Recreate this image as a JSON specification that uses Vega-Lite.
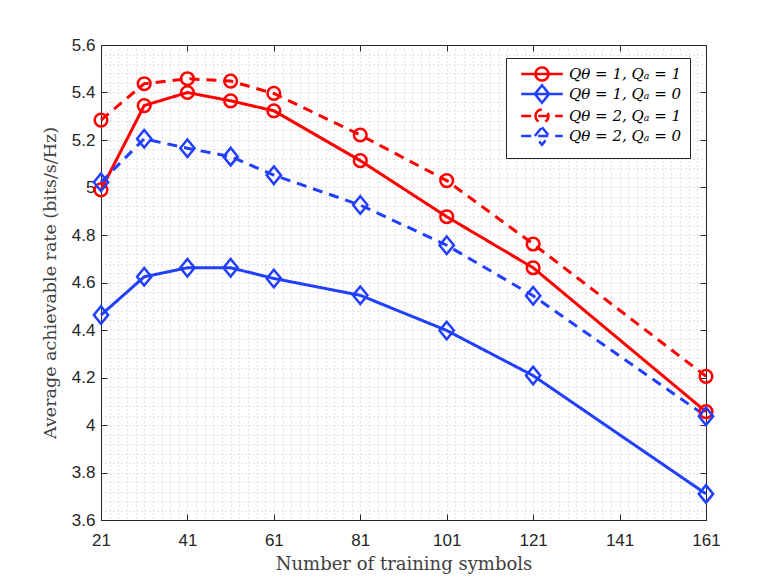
{
  "$schema": "https://vega.github.io/schema/vega-lite/v6.json",
  "autosize": "none",
  "width": 605,
  "height": 475,
  "padding": {"left": 101, "top": 45, "right": 72, "bottom": 64},
  "background": "white",
  "data": {
    "values": [
      {"symbols": 21, "rate": 4.99, "series": "Qθ = 1, Qₐ = 1"},
      {"symbols": 31, "rate": 5.345, "series": "Qθ = 1, Qₐ = 1"},
      {"symbols": 41, "rate": 5.4, "series": "Qθ = 1, Qₐ = 1"},
      {"symbols": 51, "rate": 5.365, "series": "Qθ = 1, Qₐ = 1"},
      {"symbols": 61, "rate": 5.323, "series": "Qθ = 1, Qₐ = 1"},
      {"symbols": 81, "rate": 5.113, "series": "Qθ = 1, Qₐ = 1"},
      {"symbols": 101, "rate": 4.877, "series": "Qθ = 1, Qₐ = 1"},
      {"symbols": 121, "rate": 4.662, "series": "Qθ = 1, Qₐ = 1"},
      {"symbols": 161, "rate": 4.056, "series": "Qθ = 1, Qₐ = 1"},
      {"symbols": 21, "rate": 4.463, "series": "Qθ = 1, Qₐ = 0"},
      {"symbols": 31, "rate": 4.624, "series": "Qθ = 1, Qₐ = 0"},
      {"symbols": 41, "rate": 4.662, "series": "Qθ = 1, Qₐ = 0"},
      {"symbols": 51, "rate": 4.662, "series": "Qθ = 1, Qₐ = 0"},
      {"symbols": 61, "rate": 4.617, "series": "Qθ = 1, Qₐ = 0"},
      {"symbols": 81, "rate": 4.546, "series": "Qθ = 1, Qₐ = 0"},
      {"symbols": 101, "rate": 4.398, "series": "Qθ = 1, Qₐ = 0"},
      {"symbols": 121, "rate": 4.208, "series": "Qθ = 1, Qₐ = 0"},
      {"symbols": 161, "rate": 3.71, "series": "Qθ = 1, Qₐ = 0"},
      {"symbols": 21, "rate": 5.284, "series": "Qθ = 2, Qₐ = 1"},
      {"symbols": 31, "rate": 5.437, "series": "Qθ = 2, Qₐ = 1"},
      {"symbols": 41, "rate": 5.458, "series": "Qθ = 2, Qₐ = 1"},
      {"symbols": 51, "rate": 5.448, "series": "Qθ = 2, Qₐ = 1"},
      {"symbols": 61, "rate": 5.396, "series": "Qθ = 2, Qₐ = 1"},
      {"symbols": 81, "rate": 5.221, "series": "Qθ = 2, Qₐ = 1"},
      {"symbols": 101, "rate": 5.029, "series": "Qθ = 2, Qₐ = 1"},
      {"symbols": 121, "rate": 4.762, "series": "Qθ = 2, Qₐ = 1"},
      {"symbols": 161, "rate": 4.205, "series": "Qθ = 2, Qₐ = 1"},
      {"symbols": 21, "rate": 5.022, "series": "Qθ = 2, Qₐ = 0"},
      {"symbols": 31, "rate": 5.205, "series": "Qθ = 2, Qₐ = 0"},
      {"symbols": 41, "rate": 5.165, "series": "Qθ = 2, Qₐ = 0"},
      {"symbols": 51, "rate": 5.13, "series": "Qθ = 2, Qₐ = 0"},
      {"symbols": 61, "rate": 5.052, "series": "Qθ = 2, Qₐ = 0"},
      {"symbols": 81, "rate": 4.926, "series": "Qθ = 2, Qₐ = 0"},
      {"symbols": 101, "rate": 4.757, "series": "Qθ = 2, Qₐ = 0"},
      {"symbols": 121, "rate": 4.544, "series": "Qθ = 2, Qₐ = 0"},
      {"symbols": 161, "rate": 4.037, "series": "Qθ = 2, Qₐ = 0"}
    ]
  },
  "encoding": {
    "x": {
      "field": "symbols",
      "type": "quantitative",
      "scale": {"domain": [21, 161], "nice": false, "zero": false},
      "axis": null
    },
    "y": {
      "field": "rate",
      "type": "quantitative",
      "scale": {"domain": [3.6, 5.6], "nice": false, "zero": false},
      "axis": null
    },
    "color": {
      "field": "series",
      "type": "nominal",
      "scale": {
        "domain": ["Qθ = 1, Qₐ = 1", "Qθ = 1, Qₐ = 0", "Qθ = 2, Qₐ = 1", "Qθ = 2, Qₐ = 0"],
        "range": ["#ff0000", "#213fff", "#ff0000", "#213fff"]
      },
      "legend": {
        "title": null,
        "orient": "none",
        "legendX": 405,
        "legendY": 13,
        "padding": 8,
        "fillColor": "white",
        "strokeColor": "#262626",
        "labelFont": "DejaVu Serif",
        "labelFontStyle": "italic",
        "labelFontSize": 15,
        "labelColor": "black",
        "symbolSize": 169,
        "symbolType": {"expr": "indexof(datum.value, 'Qₐ = 1') >= 0 ? 'M-3.2,0L3.2,0M-1,0A1,1 0 1,1 1,0A1,1 0 1,1 -1,0' : 'M-3.2,0L3.2,0M0,-1.35L1.1,0L0,1.35L-1.1,0Z'"},
        "symbolOffset": 20,
        "labelOffset": 19,
        "rowPadding": -6,
        "symbolStrokeWidth": 2.5,
        "encoding": {
          "symbols": {
            "update": {
              "strokeDash": {"signal": "indexof(datum.value, 'Qθ = 2') >= 0 ? [6,3] : [1,0]"},
              "fill": {"value": "transparent"},
              "strokeWidth": {"value": 2.5},
              "opacity": {"value": 1}
            }
          }
        }
      }
    }
  },
  "layer": [
    {
      "mark": {"type": "line", "strokeWidth": 3},
      "encoding": {
        "x": {
          "field": "symbols",
          "type": "quantitative",
          "scale": {"domain": [21, 161], "nice": false, "zero": false},
          "axis": {
            "orient": "bottom",
            "title": "Number of training symbols",
            "values": [21,23,25,27,29,31,33,35,37,39,41,43,45,47,49,51,53,55,57,59,61,63,65,67,69,71,73,75,77,79,81,83,85,87,89,91,93,95,97,99,101,103,105,107,109,111,113,115,117,119,121,123,125,127,129,131,133,135,137,139,141,143,145,147,149,151,153,155,157,159,161],
            "labelExpr": "(datum.value - 21) % 20 === 0 ? datum.label : ''",
            "labelOverlap": false,
            "labelFlush": false,
            "tickSize": -6,
            "tickOpacity": {"condition": {"test": "(datum.value - 21) % 20 === 0", "value": 1}, "value": 0},
            "labelPadding": 18,
            "titlePadding": 7,
            "titleFontSize": 18
          }
        },
        "y": {
          "field": "rate",
          "type": "quantitative",
          "scale": {"domain": [3.6, 5.6], "nice": false, "zero": false},
          "axis": {
            "orient": "left",
            "title": "Average achievable rate (bits/s/Hz)",
            "values": [3.6,3.64,3.68,3.72,3.76,3.8,3.84,3.88,3.92,3.96,4,4.04,4.08,4.12,4.16,4.2,4.24,4.28,4.32,4.36,4.4,4.44,4.48,4.52,4.56,4.6,4.64,4.68,4.72,4.76,4.8,4.84,4.88,4.92,4.96,5,5.04,5.08,5.12,5.16,5.2,5.24,5.28,5.32,5.36,5.4,5.44,5.48,5.52,5.56,5.6],
            "labelExpr": "abs(datum.value * 5 - round(datum.value * 5)) < 0.001 ? format(datum.value, '~g') : ''",
            "labelOverlap": false,
            "labelFlush": false,
            "tickSize": -6,
            "tickOpacity": {"condition": {"test": "abs(datum.value * 5 - round(datum.value * 5)) < 0.001", "value": 1}, "value": 0},
            "labelPadding": 12,
            "titlePadding": 12,
            "titleFontSize": 17.5
          }
        },
        "strokeDash": {
          "field": "series",
          "type": "nominal",
          "scale": {
            "domain": ["Qθ = 1, Qₐ = 1", "Qθ = 1, Qₐ = 0", "Qθ = 2, Qₐ = 1", "Qθ = 2, Qₐ = 0"],
            "range": [[1, 0], [1, 0], [10, 7], [10, 7]]
          },
          "legend": null
        }
      }
    },
    {
      "transform": [{"filter": "indexof(datum.series, 'Qₐ = 1') >= 0"}],
      "mark": {"type": "point", "filled": false, "strokeWidth": 2.5, "size": 160, "opacity": 1, "shape": "circle"}
    },
    {
      "transform": [{"filter": "indexof(datum.series, 'Qₐ = 0') >= 0"}],
      "mark": {"type": "point", "filled": false, "strokeWidth": 2.5, "size": 169, "opacity": 1, "shape": "M0,-1.35L1.1,0L0,1.35L-1.1,0Z"}
    },
    {
      "mark": {"type": "point", "opacity": 0},
      "encoding": {
        "color": {"value": "transparent"},
        "x": {
          "field": "symbols",
          "type": "quantitative",
          "scale": {"domain": [21, 161], "nice": false, "zero": false},
          "axis": {
            "orient": "top",
            "title": null,
            "labels": false,
            "grid": false,
            "values": [21, 41, 61, 81, 101, 121, 141, 161],
            "tickSize": -6
          }
        },
        "y": {
          "field": "rate",
          "type": "quantitative",
          "scale": {"domain": [3.6, 5.6], "nice": false, "zero": false},
          "axis": {
            "orient": "right",
            "title": null,
            "labels": false,
            "grid": false,
            "values": [3.6, 3.8, 4, 4.2, 4.4, 4.6, 4.8, 5, 5.2, 5.4, 5.6],
            "tickSize": -6
          }
        }
      }
    }
  ],
  "config": {
    "view": {"stroke": null},
    "axis": {
      "domainColor": "#262626",
      "domainWidth": 1,
      "tickColor": "#262626",
      "tickWidth": 1,
      "labelFont": "Liberation Sans",
      "labelFontSize": 17,
      "labelColor": "#262626",
      "titleFont": "DejaVu Serif",
      "titleFontSize": 18,
      "titleFontWeight": "normal",
      "titleColor": "#404040",
      "grid": true,
      "gridColor": "#c6c6c6",
      "gridDash": [1, 3],
      "gridWidth": 1
    }
  }
}
